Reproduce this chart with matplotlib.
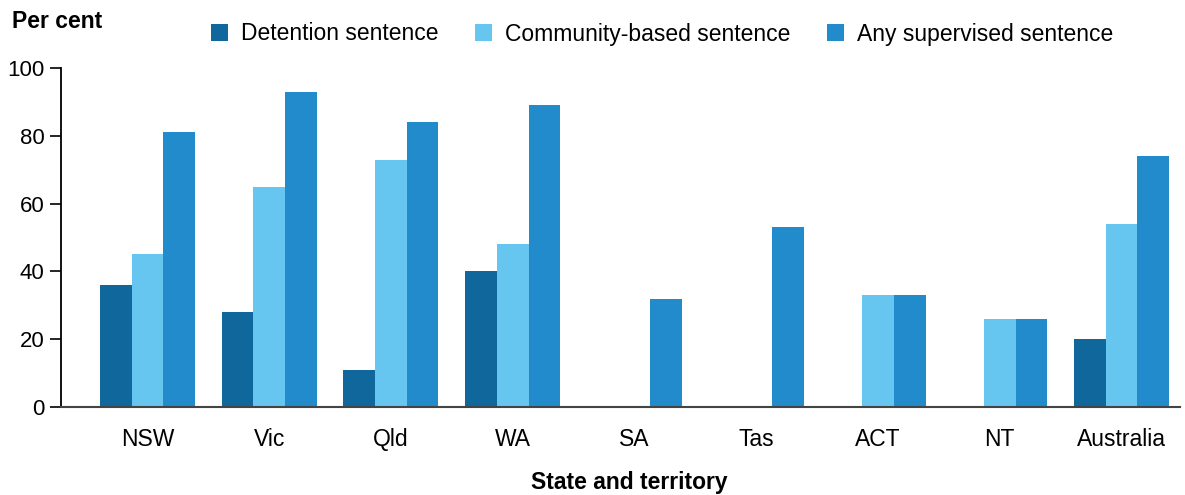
import matplotlib
matplotlib.use("Agg")
import matplotlib.pyplot as plt
import numpy as np

categories = ["NSW", "Vic", "Qld", "WA", "SA", "Tas", "ACT", "NT", "Australia"]
detention = [36, 28, 11, 40, 0, 0, 0, 0, 20]
community = [45, 65, 73, 48, 0, 0, 33, 26, 54]
any_supervised = [81, 93, 84, 89, 32, 53, 33, 26, 74]
series_names = ["Detention sentence", "Community-based sentence", "Any supervised sentence"]
colors = ["#10679b", "#66c6f0", "#228bcc"]
yticks = [0, 20, 40, 60, 80, 100]

plt.rcParams['font.family'] = ['Liberation Sans', 'DejaVu Sans']

fig = plt.figure(figsize=(11.85, 4.95), dpi=100)
ax = fig.add_axes([61/1185, 1-407/495, (1180-61)/1185, (407-68)/495])

x = np.arange(len(categories))
w = 0.26
handles = []
for i, (vals, name, c) in enumerate(zip([detention, community, any_supervised], series_names, colors)):
    b = ax.bar(x + (i-1)*w, vals, width=w, color=c, label=name, linewidth=0)
    handles.append(b)

ax.set_xlim(-0.71, 8.48)
ax.set_ylim(0, 100)
ax.set_yticks(yticks)
ax.set_xticks(x)
ax.set_xticklabels(categories, fontsize=16.5)
ax.tick_params(axis='x', length=0, pad=15)
ax.tick_params(axis='y', length=8, width=1.2, pad=4, labelsize=16)
for s in ['top', 'right']:
    ax.spines[s].set_visible(False)
ax.spines['left'].set_linewidth(1.3)
ax.spines['bottom'].set_linewidth(1.5)
ax.spines['bottom'].set_color('#444444')

fig.text(12/1185, 1-22/495, "Per cent", fontsize=16.5, fontweight='bold', va='center', ha='left')
fig.text(629/1185, 1-483/495, "State and territory", fontsize=16.5, fontweight='bold', va='center', ha='center')

leg = fig.legend(handles=handles, labels=series_names, loc='center left',
                 bbox_to_anchor=(211/1185, 1-34/495), ncol=3, frameon=False,
                 fontsize=16.5, handlelength=0.75, handleheight=0.75, handletextpad=0.55,
                 columnspacing=1.6, borderpad=0, borderaxespad=0)

fig.savefig("out.png", dpi=100)
